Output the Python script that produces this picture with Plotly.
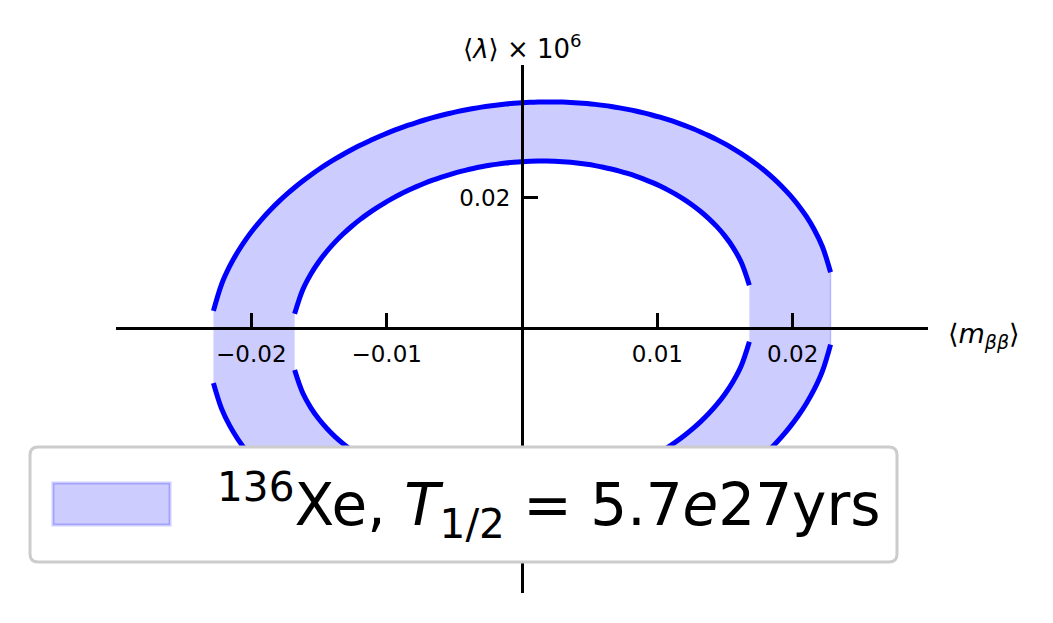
import numpy as np
import plotly.graph_objects as go

# ---- data ----
# Outer ellipse of the allowed band:  a*x^2 + 2*b*x*y + c*y^2 = 1
outer_y_at_zero = 0.0346      # <lambda> where <m_bb> = 0
outer_x_max = 0.0231          # largest |<m_bb>|
outer_y_at_xmax = 0.0030      # <lambda> at the right-most point
inner_scale = 0.738           # inner ellipse = scaled outer ellipse
x_grid = np.linspace(-0.03, 0.03, 101)   # sampling grid used for the curves

x_ticks = [-0.02, -0.01, 0.01, 0.02]
x_ticktext = ["\u22120.02", "\u22120.01", "0.01", "0.02"]
y_ticks = [-0.02, 0.02]
y_ticktext = ["\u22120.02", "0.02"]
legend_label = "<sup>136</sup>Xe, <i>T</i><sub>1/2</sub> = 5.7<i>e</i>27yrs"

# ---- derive ellipse coefficients ----
c0 = 1.0 / outer_y_at_zero**2
b0 = -outer_y_at_xmax * c0 / outer_x_max
det0 = c0 / outer_x_max**2
a0 = (det0 + b0**2) / c0


def halves(scale):
    a, b, c = a0 / scale**2, b0 / scale**2, c0 / scale**2
    disc = b**2 * x_grid**2 - c * (a * x_grid**2 - 1)
    ok = disc >= 0
    xs = x_grid[ok]
    r = np.sqrt(disc[ok])
    up = (-b * xs + r) / c
    lo = (-b * xs - r) / c
    return xs, up, lo


xo, uo, lo_ = halves(1.0)
xi, ui, li = halves(inner_scale)

FONT = "DejaVu Sans"
BLUE = "#0000ff"

fig = go.Figure()
# outer filled region
fig.add_trace(go.Scatter(
    x=np.concatenate([xo, xo[::-1]]), y=np.concatenate([uo, lo_[::-1]]),
    fill="toself", fillcolor="rgba(0,0,255,0.2)",
    line=dict(color="rgba(0,0,255,0.2)", width=1.5),
    mode="lines", hoverinfo="skip", showlegend=False))
# hole
fig.add_trace(go.Scatter(
    x=np.concatenate([xi, xi[::-1]]), y=np.concatenate([ui, li[::-1]]),
    fill="toself", fillcolor="white", line=dict(width=0),
    mode="lines", hoverinfo="skip", showlegend=False))
# ellipse curves (upper and lower halves separately)
for xs, up, lo in [(xo, uo, lo_), (xi, ui, li)]:
    for ys in (up, lo):
        fig.add_trace(go.Scatter(
            x=xs, y=ys, mode="lines",
            line=dict(color=BLUE, width=5, shape="spline", smoothing=1.0),
            hoverinfo="skip", showlegend=False))

# page body has an 8px margin: size the figure so the plot box lands at
# screen x 116..928, y 65..593
OFF = 8
W, H = 1053 - OFF, 623 - OFF
SL, ST, SR, SB = 116, 65, 928, 593      # plot box in screen pixels
L, T = SL - OFF, ST - OFF
R, B = W - (SR - OFF), H - (SB - OFF)
ymin, ymax = -0.0408, 0.0404
pw, ph = SR - SL, SB - ST


def px2paper(px, py):
    return (px - SL) / pw, (SB - py) / ph


axis_common = dict(showgrid=False, zeroline=False, showline=True, linecolor="black",
                   linewidth=3, ticks="inside", ticklen=14, tickwidth=3,
                   tickcolor="black", tickfont=dict(family=FONT, size=23, color="black"))

fig.update_layout(
    width=W, height=H, margin=dict(l=L, r=R, t=T, b=B, autoexpand=False),
    paper_bgcolor="white", plot_bgcolor="white", showlegend=False,
    font=dict(family=FONT, color="black"),
    xaxis=dict(range=[-0.03, 0.03], anchor="free", position=-ymin / (ymax - ymin),
               tickvals=x_ticks, ticktext=x_ticktext, ticklabelstandoff=5, **axis_common),
    yaxis=dict(range=[ymin, ymax], anchor="free", position=0.5,
               tickvals=y_ticks, ticktext=y_ticktext, ticklabelstandoff=6, **axis_common),
)

# axis labels
ax, ay = px2paper(522, 47)
fig.add_annotation(x=ax, y=ay, xref="paper", yref="paper", showarrow=False,
                   text="\u27e8<i>\u03bb</i>\u27e9 \u00d7 10<sup>6</sup>",
                   font=dict(family=FONT, size=26, color="black"),
                   xanchor="center", yanchor="middle")
bx, by = px2paper(946, 336)
fig.add_annotation(x=bx, y=by, xref="paper", yref="paper", showarrow=False,
                   text="\u27e8<i>m</i><sub><i>\u03b2\u03b2</i></sub>\u27e9",
                   font=dict(family=FONT, size=27, color="black"),
                   xanchor="left", yanchor="middle")

# legend box (drawn as shapes, matplotlib style)
x0, y0 = px2paper(30, 562)
x1, y1 = px2paper(897, 447)
rx, ry = 8 / pw, 8 / ph
path = (f"M {x0+rx},{y0} L {x1-rx},{y0} Q {x1},{y0} {x1},{y0+ry} "
        f"L {x1},{y1-ry} Q {x1},{y1} {x1-rx},{y1} L {x0+rx},{y1} "
        f"Q {x0},{y1} {x0},{y1-ry} L {x0},{y0+ry} Q {x0},{y0} {x0+rx},{y0} Z")
fig.add_shape(type="path", path=path, xref="paper", yref="paper",
              fillcolor="white", line=dict(color="#cccccc", width=3), layer="above")
p0x, p0y = px2paper(53, 525)
p1x, p1y = px2paper(170, 483)
fig.add_shape(type="rect", x0=p0x, y0=p0y, x1=p1x, y1=p1y, xref="paper", yref="paper",
              fillcolor="rgba(0,0,255,0.2)", line=dict(color="rgba(0,0,255,0.2)", width=3),
              layer="above")
tx, ty = px2paper(215, 505)
fig.add_annotation(x=tx, y=ty, xref="paper", yref="paper", showarrow=False,
                   text=legend_label, font=dict(family=FONT, size=58, color="black"),
                   xanchor="left", yanchor="middle")

fig.write_html("out.html")
